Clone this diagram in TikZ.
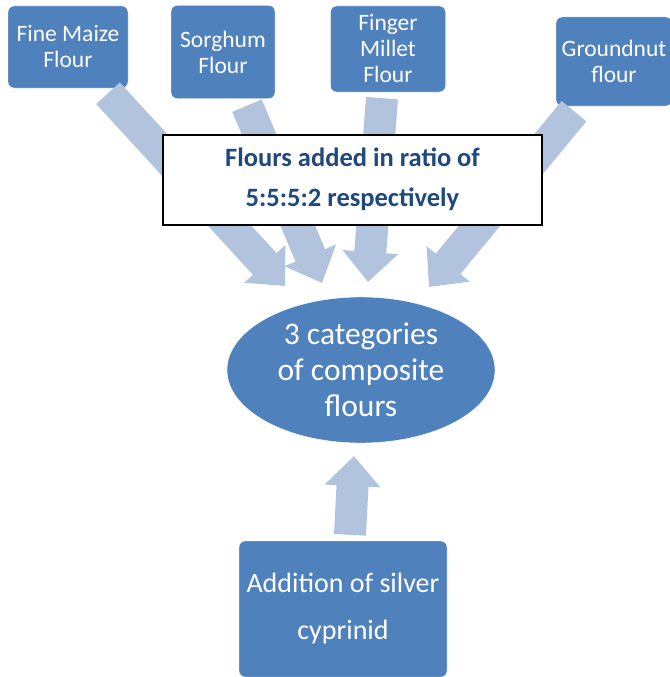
\documentclass[tikz,border=0pt]{standalone}
\usepackage{fontspec}
\setmainfont{Carlito}
\usetikzlibrary{arrows.meta, shapes.geometric}
\definecolor{boxblue}{RGB}{79,129,189}
\definecolor{flowblue}{RGB}{178,195,222}
\definecolor{ratioblue}{RGB}{31,73,125}

\begin{document}
\begin{tikzpicture}[x=1pt, y=-1pt,
        flour/.style={rectangle, fill=boxblue, draw=white, thin,
                      rounded corners=6pt, text=white, align=center,
                      inner sep=1pt, font=\fontsize{23.5}{26}\selectfont},
        ratio/.style={rectangle, fill=white, draw=black, line width=2pt,
                      align=center, text=ratioblue,
                      font=\bfseries\fontsize{26.5}{40}\selectfont},
        result/.style={ellipse, fill=boxblue, draw=white, thin, text=white,
                       align=center, inner sep=0pt,
                       font=\fontsize{31.5}{36}\selectfont},
        fish/.style={flour, font=\fontsize{28}{47}\selectfont},
        flow/.style={draw=flowblue, line width=32pt,
                     -{Triangle[width=54pt,length=30pt]}}]
      \useasboundingbox (0,0) rectangle (669,677);
      % ingredient boxes
      \node[flour, minimum width=120pt, minimum height=82pt] (maize) at (68,47) {Fine Maize\\Flour};
      \node[flour, minimum width=104pt, minimum height=93pt] (sorghum) at (223,52) {Sorghum\\Flour};
      \node[flour, minimum width=115pt, minimum height=86pt] (millet) at (388,49) {Finger\\Millet\\Flour};
      \node[flour, minimum width=116pt, minimum height=89pt] (gnut) at (614,61.5) {Groundnut\\flour};
      \node[result, minimum width=268pt, minimum height=146pt] (comp) at (361,370) {3 categories\\of composite\\flours};
      \node[fish, minimum width=208pt, minimum height=136pt] (fish) at (343,609) {Addition of silver\\cyprinid};
      % arrow ends above the ellipse
      \coordinate (in1) at (285,286);
      \coordinate (in2) at (322,283);
      \coordinate (in3) at (368,282);
      \coordinate (in4) at (429,287);
      \coordinate (up) at (354,456);
      \draw[flow] ([shift={(40,5)}]maize.south) -- (in1);
      \draw[flow] ([shift={(24,7)}]sorghum.south) -- (in2);
      \draw[flow] ([shift={(-6,6)}]millet.south) -- (in3);
      \draw[flow] ([shift={(-40,5)}]gnut.south) -- (in4);
      \draw[flow] ([shift={(7,-6)}]fish.north) -- (up);
      % ratio note on top of the arrows
      \node[ratio, minimum width=379pt, minimum height=90pt] (note) at (352.5,179.5)
            {Flours added in ratio of\\5:5:5:2 respectively};
    \end{tikzpicture}
\end{document}
